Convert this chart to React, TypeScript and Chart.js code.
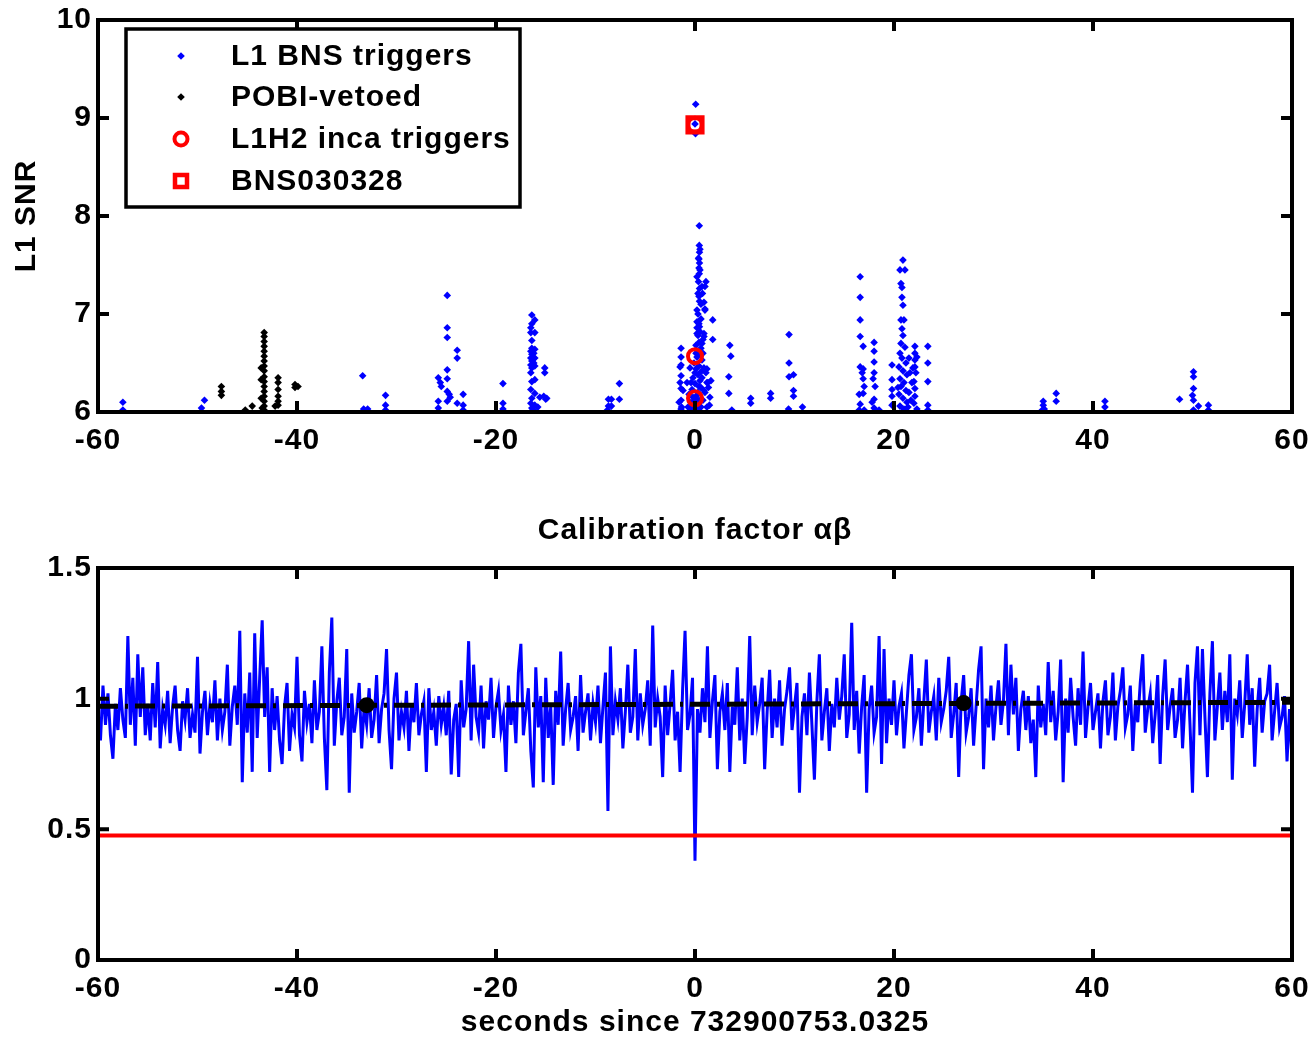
import React, { useEffect, useRef } from "react";
import { Chart, registerables } from "chart.js";

Chart.register(...registerables);

const FONT = "'Liberation Sans', Arial, Helvetica, sans-serif";

// ---------------- Top panel data ----------------
const xTicks = [-60, -40, -20, 0, 20, 40, 60];
const snrTicks = [6, 7, 8, 9, 10];
const calTicks = [0, 0.5, 1, 1.5];

const bnsTriggers: [number, number][] = [
  [-57.5, 6.1], [-57.5, 6.02], [-49.6, 6.04], [-49.3, 6.12],
  [-33.4, 6.37], [-33.3, 6.03], [-32.9, 6.03], [-31.1, 6.17], [-31.1, 6.07], [-31.1, 6.02],
  [-25.8, 6.35], [-25.8, 6.11], [-25.8, 6.04], [-25.6, 6.3], [-25.5, 6.26],
  [-24.9, 7.19], [-24.9, 6.86], [-24.9, 6.76], [-24.9, 6.43], [-24.9, 6.34], [-24.9, 6.21], [-24.9, 6.11], [-24.7, 6.18], [-24.6, 6.15],
  [-23.9, 6.63], [-23.9, 6.55], [-23.9, 6.09], [-23.3, 6.18], [-23.3, 6.07], [-23.3, 6.02],
  [-19.3, 6.29], [-19.3, 6.09], [-19.3, 6.03],
  [-16.4, 6.99], [-16.4, 6.9], [-16.5, 6.86], [-16.5, 6.81], [-16.4, 6.73], [-16.4, 6.65], [-16.5, 6.62], [-16.4, 6.59],
  [-16.5, 6.55], [-16.4, 6.52], [-16.5, 6.48], [-16.4, 6.45], [-16.5, 6.4], [-16.4, 6.31], [-16.5, 6.23], [-16.4, 6.14],
  [-16.5, 6.09], [-16.4, 6.04], [-16.4, 6.01], [-16.1, 6.94], [-16.1, 6.81], [-16.1, 6.64], [-16.1, 6.55], [-16.1, 6.47],
  [-16.1, 6.33], [-16.1, 6.19], [-16.1, 6.07], [-16.2, 6.6], [-16.2, 6.5], [-16.2, 6.02],
  [-15.1, 6.45], [-15.1, 6.4], [-15.2, 6.16], [-15.0, 6.13], [-14.9, 6.14], [-15.6, 6.15], [-15.8, 6.05],
  [-8.7, 6.13], [-8.7, 6.06], [-8.8, 6.02], [-8.4, 6.13], [-8.4, 6.06], [-7.6, 6.29], [-7.6, 6.13],
  [0.07, 9.14], [0.0, 8.94], [0.05, 8.84],
  [0.43, 7.9], [0.43, 7.7], [0.45, 7.63], [0.35, 7.57], [0.45, 7.52], [0.4, 7.47], [0.43, 7.41], [0.35, 7.33], [1.1, 7.33],
  [0.45, 7.26], [0.75, 7.21], [0.3, 7.21], [1.0, 7.28], [0.45, 7.13], [0.9, 7.12], [1.0, 7.04], [0.2, 7.04], [1.78, 6.94],
  [0.45, 6.87], [0.2, 6.8], [0.9, 6.77], [1.78, 6.74],
  [-1.4, 6.56], [-1.4, 6.48], [-1.4, 6.37], [-1.4, 6.24], [-1.4, 6.12], [-1.35, 6.05], [-0.8, 6.3], [1.2, 6.44], [1.2, 6.3], [1.35, 6.25], [1.45, 6.07],
  [3.5, 6.68], [3.6, 6.57], [3.4, 6.36], [3.4, 6.19], [3.7, 6.02],
  [5.6, 6.14], [5.6, 6.09], [7.6, 6.19], [7.6, 6.14],
  [9.45, 6.79], [9.45, 6.5], [9.45, 6.36], [9.9, 6.38], [9.9, 6.22], [9.9, 6.16], [9.4, 6.03], [10.8, 6.05],
  [-0.3, 6.02], [-0.2, 6.05], [-0.1, 6.08], [0.0, 6.11], [0.1, 6.14], [0.2, 6.17], [0.3, 6.2], [-0.3, 6.23], [0.4, 6.26],
  [0.0, 6.29], [0.5, 6.32], [-0.2, 6.35], [0.3, 6.38], [0.6, 6.41], [0.1, 6.44], [0.4, 6.47], [-0.1, 6.5], [0.7, 6.53],
  [0.2, 6.56], [0.5, 6.59], [0.3, 6.62], [0.6, 6.65], [0.1, 6.68], [0.4, 6.71], [0.8, 6.74], [0.3, 6.78], [0.5, 6.82],
  [0.2, 6.86], [0.4, 6.9], [0.6, 6.95], [0.3, 7.0], [-0.4, 6.1], [0.8, 6.12], [-0.4, 6.3], [0.9, 6.22], [0.7, 6.35],
  [0.9, 6.45], [0.8, 6.6], [1.1, 6.4], [1.0, 6.2], [1.2, 6.05], [1.3, 6.3], [1.5, 6.15], [1.6, 6.32], [-0.5, 6.45],
  [-0.6, 6.18], [-0.7, 6.05], [0.6, 6.05], [0.2, 6.03], [0.5, 6.12], [0.0, 6.4], [0.9, 6.8], [1.0, 7.05], [0.6, 7.1],
  [0.4, 7.18], [0.7, 7.28], [0.2, 7.38], [0.5, 7.45], [0.4, 7.56], [0.5, 7.66], [-1.2, 6.22], [-1.5, 6.3], [-1.5, 6.46],
  [-1.4, 6.65], [-1.6, 6.1], [-1.4, 6.03], [0.1, 6.6], [0.6, 6.25], [-0.2, 6.15], [0.3, 6.1], [0.7, 6.7], [0.2, 6.92],
  [16.6, 7.38], [16.6, 7.17], [16.6, 6.94], [16.6, 6.77], [16.6, 6.46], [16.5, 6.18], [16.6, 6.08], [16.5, 6.02],
  [16.9, 6.67], [16.9, 6.44], [16.9, 6.34], [17.0, 6.26], [16.9, 6.19], [17.0, 6.02], [16.8, 6.4],
  [18.0, 6.71], [18.0, 6.62], [18.0, 6.51], [18.0, 6.4], [17.9, 6.34], [18.1, 6.26], [18.0, 6.13], [18.0, 6.04], [17.8, 6.1],
  [18.5, 6.02], [19.8, 6.48], [19.8, 6.33], [19.8, 6.23], [19.8, 6.16], [19.8, 6.07],
  [20.9, 7.55], [20.6, 7.45], [21.1, 7.45], [20.7, 7.31], [20.8, 7.27], [20.8, 7.17], [20.9, 7.09], [20.7, 6.94], [21.0, 6.94],
  [20.8, 6.85], [20.9, 6.78], [20.7, 6.7], [21.1, 6.66], [20.6, 6.6], [20.8, 6.55], [21.2, 6.5], [20.5, 6.46], [20.9, 6.42],
  [21.3, 6.38], [20.6, 6.34], [21.0, 6.3], [20.7, 6.26], [21.2, 6.22], [20.5, 6.18], [20.9, 6.14], [21.3, 6.1], [20.6, 6.06],
  [21.0, 6.03], [21.5, 6.2], [21.6, 6.4], [21.7, 6.12], [21.8, 6.3], [21.4, 6.05], [20.4, 6.25], [21.5, 6.55], [21.9, 6.45],
  [22.1, 6.67], [22.1, 6.6], [22.1, 6.53], [22.1, 6.46], [22.2, 6.4], [22.0, 6.31], [22.1, 6.24], [22.1, 6.16], [22.0, 6.09],
  [22.3, 6.56], [22.3, 6.03], [23.4, 6.67], [23.4, 6.5], [23.4, 6.31], [23.4, 6.07], [23.4, 6.02],
  [35.0, 6.11], [35.0, 6.07], [35.1, 6.03], [34.9, 6.02], [36.3, 6.19], [36.3, 6.11], [41.2, 6.11], [41.2, 6.05],
  [48.7, 6.13], [50.1, 6.41], [50.1, 6.36], [50.1, 6.24], [50.0, 6.17], [50.1, 6.12], [50.1, 6.02], [50.6, 6.06],
  [51.6, 6.07], [51.6, 6.02],
];

const pobiVetoed: [number, number][] = [
  [-47.6, 6.26], [-47.6, 6.21], [-47.6, 6.17], [-45.2, 6.02], [-44.5, 6.06],
  [-43.3, 6.81], [-43.3, 6.77], [-43.3, 6.72], [-43.3, 6.67], [-43.3, 6.62], [-43.3, 6.57], [-43.3, 6.52], [-43.3, 6.47],
  [-43.3, 6.42], [-43.3, 6.36], [-43.3, 6.31], [-43.3, 6.26], [-43.3, 6.21], [-43.3, 6.16], [-43.3, 6.11], [-43.3, 6.06],
  [-43.3, 6.02], [-43.6, 6.45], [-43.6, 6.33], [-43.6, 6.14], [-43.5, 6.04],
  [-42.2, 6.06], [-41.9, 6.35], [-41.9, 6.3], [-41.9, 6.23], [-41.9, 6.16], [-41.9, 6.11], [-41.9, 6.07],
  [-40.2, 6.28], [-40.2, 6.25], [-39.9, 6.26],
];

const incaTriggers: [number, number][] = [[0, 8.93], [0, 6.57], [0, 6.14]];
const bns030328: [number, number][] = [[0, 8.93]];

// ---------------- Bottom panel data ----------------
const CAL_START = -60;
const CAL_STEP = 0.25;
const calibration: number[] = [
  0.95, 0.84, 1.05, 0.90, 1.02, 0.86, 0.77, 0.98, 0.88, 1.04, 0.92, 0.85, 1.24, 0.90, 1.08, 0.82, 1.17, 0.93, 1.12, 0.86,
  0.98, 0.84, 1.06, 0.89, 1.14, 0.81, 0.96, 0.90, 1.03, 0.83, 0.97, 1.05, 0.88, 0.80, 0.99, 0.92, 1.04, 0.85, 0.94, 0.87,
  1.16, 0.79, 0.95, 1.03, 0.86, 0.98, 0.91, 1.07, 0.84, 1.00, 0.88, 0.95, 1.13, 0.82, 0.97, 1.05, 0.90, 1.26, 0.68, 1.02,
  0.87, 1.10, 0.72, 1.25, 0.85, 1.08, 1.30, 0.93, 1.12, 0.72, 1.04, 0.88, 1.01, 0.84, 0.75, 0.97, 1.06, 0.80, 0.94, 0.89,
  1.16, 0.86, 0.76, 1.03, 0.91, 0.98, 0.83, 1.07, 0.88, 0.95, 1.20, 0.85, 0.65, 1.10, 1.31, 0.82, 0.99, 1.08, 0.86, 0.93,
  1.19, 0.64, 1.02, 0.87, 0.95, 1.06, 0.81, 0.97, 0.90, 1.04, 0.85, 0.92, 1.09, 0.83, 0.96, 1.02, 1.19, 0.88, 0.73, 1.00,
  1.10, 0.84, 0.95, 0.89, 1.03, 0.80, 0.98, 0.91, 1.06, 0.86, 0.94, 0.99, 0.72, 1.04, 0.88, 0.95, 0.82, 1.01, 0.90, 0.97,
  0.86, 1.03, 0.71, 0.92, 0.98, 0.70, 1.07, 0.89, 0.96, 1.22, 0.84, 1.13, 0.93, 0.87, 1.05, 0.81, 0.99, 0.92, 1.08, 0.85,
  0.97, 1.03, 0.88, 0.94, 0.72, 1.05, 0.90, 0.99, 0.83, 1.10, 1.21, 0.86, 0.95, 1.04, 0.80, 0.66, 1.12, 0.89, 1.01, 0.68,
  1.08, 0.85, 0.97, 0.67, 1.03, 0.90, 1.18, 0.82, 0.96, 1.06, 0.88, 0.93, 1.01, 0.80, 1.09, 0.87, 0.95, 1.02, 0.84, 0.98,
  0.91, 1.05, 0.83, 0.97, 1.10, 0.57, 1.20, 0.86, 0.99, 0.92, 1.04, 0.81, 0.95, 1.13, 0.87, 0.93, 1.19, 0.84, 1.02, 0.90,
  0.96, 1.07, 0.82, 1.28, 0.89, 1.00, 0.93, 0.70, 1.05, 0.86, 0.98, 1.11, 0.84, 0.95, 0.72, 1.03, 1.26, 0.88, 0.94, 1.08,
  0.38, 0.96, 0.87, 1.04, 0.91, 1.20, 0.85, 0.99, 1.09, 0.73, 0.95, 1.02, 0.88, 1.06, 0.72, 0.97, 0.90, 1.12, 0.84, 1.00,
  0.75, 0.93, 1.24, 0.86, 1.05, 0.91, 0.98, 1.08, 0.73, 0.95, 1.11, 0.85, 1.00, 0.89, 1.07, 0.82, 0.96, 1.03, 1.12, 0.88,
  0.97, 1.06, 0.64, 0.93, 1.02, 0.86, 1.10, 0.90, 0.69, 0.99, 1.17, 0.84, 0.95, 1.04, 0.80, 0.98, 0.89, 1.08, 0.92, 1.01,
  1.17, 0.85, 0.94, 1.29, 0.88, 1.03, 0.79, 0.97, 1.09, 0.64, 0.96, 1.05, 0.87, 0.93, 1.24, 0.75, 1.19, 0.83, 1.00, 0.90,
  1.07, 0.86, 0.97, 1.02, 0.81, 0.95, 1.09, 1.17, 0.88, 0.93, 1.04, 0.82, 0.99, 1.15, 0.87, 0.95, 1.01, 0.84, 1.08, 0.91,
  0.96, 1.03, 1.16, 0.85, 0.94, 1.06, 0.70, 0.99, 1.09, 0.87, 0.93, 1.04, 0.82, 0.97, 1.11, 1.20, 0.73, 1.00, 0.89, 1.05,
  0.84, 0.97, 1.07, 0.90, 0.99, 1.21, 0.86, 1.13, 0.94, 1.08, 0.80, 0.96, 1.03, 0.88, 1.01, 0.83, 0.92, 0.70, 1.05, 0.89,
  0.98, 0.86, 1.14, 0.91, 1.03, 0.84, 0.95, 1.15, 0.68, 1.00, 0.87, 1.08, 0.93, 0.82, 1.04, 0.90, 1.18, 0.85, 0.97, 1.06,
  0.88, 0.95, 1.02, 0.81, 0.99, 1.07, 0.86, 0.93, 1.10, 0.84, 0.97, 1.03, 1.12, 0.89, 0.94, 1.05, 0.80, 0.98, 0.91, 1.06,
  1.17, 0.87, 0.96, 1.02, 0.83, 0.94, 1.09, 0.75, 1.01, 1.15, 0.88, 0.97, 1.04, 0.85, 0.92, 1.08, 0.81, 0.99, 1.13, 0.90,
  0.64, 1.06, 1.20, 0.86, 1.19, 0.93, 0.70, 1.02, 1.22, 0.84, 0.97, 1.10, 0.88, 1.03, 0.91, 1.17, 0.69, 1.00, 0.94, 1.07,
  0.85, 0.98, 1.17, 0.90, 1.04, 0.74, 0.96, 1.08, 0.87, 0.99, 1.02, 1.13, 0.84, 0.95, 1.06, 0.89, 0.93, 1.01, 0.76, 0.96,
  0.76,
];
const meanLine: [number, number][] = [[-60, 0.971], [60, 0.986]];
const meanMarkers: [number, number][] = [[-33, 0.975], [27, 0.983]];
const thresholdLine: [number, number][] = [[-60, 0.476], [60, 0.476]];

const toXY = (arr: [number, number][]) => arr.map(([x, y]) => ({ x, y }));

const tickFont = { family: FONT, size: 30, weight: "bold" as const };
const SPACING = "1px";

const spacingPlugin = {
  id: "spacing",
  beforeUpdate(chart: any) {
    chart.ctx.letterSpacing = SPACING;
  },
  beforeDraw(chart: any) {
    chart.ctx.letterSpacing = SPACING;
  },
};

const framePlugin = {
  id: "frame",
  afterDatasetsDraw(chart: any) {
    const ctx = chart.ctx;
    const { left, right, top, bottom } = chart.chartArea;
    ctx.save();
    ctx.strokeStyle = "#000";
    ctx.lineWidth = 4;
    ctx.strokeRect(left, top, right - left, bottom - top);
    const tl = 11;
    const xs = chart.scales.x;
    const ys = chart.scales.y;
    ctx.beginPath();
    xs.ticks.forEach((t: any) => {
      const px = xs.getPixelForValue(t.value);
      ctx.moveTo(px, bottom);
      ctx.lineTo(px, bottom - tl);
      ctx.moveTo(px, top);
      ctx.lineTo(px, top + tl);
    });
    ys.ticks.forEach((t: any) => {
      const py = ys.getPixelForValue(t.value);
      ctx.moveTo(left, py);
      ctx.lineTo(left + tl, py);
      ctx.moveTo(right, py);
      ctx.lineTo(right - tl, py);
    });
    ctx.stroke();
    ctx.restore();
  },
};

const legendItems = [
  { label: "L1 BNS triggers", kind: "dot", color: "#0000ff" },
  { label: "POBI-vetoed", kind: "dot", color: "#000000" },
  { label: "L1H2 inca triggers", kind: "circle", color: "#ff0000" },
  { label: "BNS030328", kind: "square", color: "#ff0000" },
];

const legendPlugin = {
  id: "legendBox",
  afterDraw(chart: any) {
    const ctx = chart.ctx;
    const { left, top } = chart.chartArea;
    const x0 = left + 28;
    const y0 = top + 9;
    const w = 394;
    const h = 178;
    ctx.save();
    ctx.fillStyle = "#fff";
    ctx.fillRect(x0, y0, w, h);
    ctx.strokeStyle = "#000";
    ctx.lineWidth = 3.5;
    ctx.strokeRect(x0, y0, w, h);
    const rowY = [36, 77, 119, 161];
    legendItems.forEach((it, i) => {
      const cy = top + rowY[i];
      const mx = left + 83;
      if (it.kind === "dot") {
        ctx.fillStyle = it.color;
        ctx.beginPath();
        ctx.moveTo(mx, cy - 3.8);
        ctx.lineTo(mx + 3.8, cy);
        ctx.lineTo(mx, cy + 3.8);
        ctx.lineTo(mx - 3.8, cy);
        ctx.closePath();
        ctx.fill();
      } else if (it.kind === "circle") {
        ctx.strokeStyle = it.color;
        ctx.lineWidth = 4;
        ctx.beginPath();
        ctx.arc(mx, cy, 6.5, 0, Math.PI * 2);
        ctx.stroke();
      } else {
        ctx.strokeStyle = it.color;
        ctx.lineWidth = 4.5;
        ctx.strokeRect(mx - 6, cy - 6, 12, 12);
      }
      ctx.fillStyle = "#000";
      ctx.font = `bold 30px ${FONT}`;
      ctx.textAlign = "left";
      ctx.textBaseline = "middle";
      ctx.fillText(it.label, left + 133, cy + 1);
    });
    ctx.restore();
  },
};

const fmt = (v: any) => String(v);

function xScale(withTitle: boolean, height: number) {
  return {
    type: "linear" as const,
    min: -60,
    max: 60,
    afterBuildTicks: (s: any) => {
      s.ticks = xTicks.map((v) => ({ value: v }));
    },
    ticks: { color: "#000", font: tickFont, padding: 11, maxRotation: 0, autoSkip: false, callback: fmt },
    grid: { display: false, drawTicks: false },
    border: { display: false },
    title: withTitle
      ? { display: true, text: "seconds since 732900753.0325", color: "#000", font: tickFont, padding: { top: 0, bottom: -3 } }
      : { display: false },
    afterFit: (s: any) => {
      s.height = height;
      s.paddingLeft = 0;
      s.paddingRight = 0;
    },
  };
}

function yScale(min: number, max: number, ticks: number[], title: string | null) {
  return {
    type: "linear" as const,
    min,
    max,
    afterBuildTicks: (s: any) => {
      s.ticks = ticks.map((v) => ({ value: v }));
    },
    ticks: { color: "#000", font: tickFont, padding: 6, callback: fmt },
    grid: { display: false, drawTicks: false },
    border: { display: false },
    title: title
      ? { display: true, text: title, color: "#000", font: tickFont, padding: { top: 9, bottom: 0 } }
      : { display: false },
    afterFit: (s: any) => {
      s.width = 98;
      s.paddingTop = 0;
      s.paddingBottom = 0;
    },
  };
}

export default function App() {
  const topRef = useRef<HTMLCanvasElement | null>(null);
  const botRef = useRef<HTMLCanvasElement | null>(null);

  useEffect(() => {
    const top = new Chart(topRef.current as HTMLCanvasElement, {
      type: "scatter",
      data: {
        datasets: [
          {
            label: "BNS030328",
            data: toXY(bns030328),
            pointStyle: "rect",
            pointRadius: 10,
            pointBorderWidth: 5,
            pointBorderColor: "#ff0000",
            pointBackgroundColor: "rgba(0,0,0,0)",
            order: 0,
          },
          {
            label: "L1H2 inca triggers",
            data: toXY(incaTriggers),
            pointStyle: "circle",
            pointRadius: 7,
            pointBorderWidth: 4,
            pointBorderColor: "#ff0000",
            pointBackgroundColor: "rgba(0,0,0,0)",
            order: 1,
          },
          {
            label: "POBI-vetoed",
            data: toXY(pobiVetoed),
            pointStyle: "rectRot",
            pointRadius: 3.8,
            pointBorderWidth: 0,
            pointBackgroundColor: "#000000",
            order: 2,
          },
          {
            label: "L1 BNS triggers",
            data: toXY(bnsTriggers),
            pointStyle: "rectRot",
            pointRadius: 3.8,
            pointBorderWidth: 0,
            pointBackgroundColor: "#0000ff",
            order: 3,
          },
        ],
      },
      options: {
        responsive: false,
        animation: false,
        events: [],
        layout: { padding: { top: 20, right: 23, left: 0, bottom: 0 } },
        scales: {
          x: xScale(false, 58),
          y: yScale(6, 10, snrTicks, "L1 SNR"),
        },
        plugins: { legend: { display: false }, tooltip: { enabled: false }, title: { display: false } },
      },
      plugins: [spacingPlugin, framePlugin, legendPlugin],
    } as any);

    const calData = calibration.map((v, i) => ({ x: CAL_START + i * CAL_STEP, y: v }));

    const bot = new Chart(botRef.current as HTMLCanvasElement, {
      type: "scatter",
      data: {
        datasets: [
          {
            label: "mean markers",
            data: toXY(meanMarkers),
            pointStyle: "circle",
            pointRadius: 8,
            pointBorderWidth: 0,
            pointBackgroundColor: "#000",
            order: 0,
          },
          {
            label: "mean",
            data: toXY(meanLine),
            showLine: true,
            borderColor: "#000",
            borderWidth: 5,
            borderDash: [20, 7, 3, 7],
            pointRadius: 0,
            order: 1,
          },
          {
            label: "threshold",
            data: toXY(thresholdLine),
            showLine: true,
            borderColor: "#ff0000",
            borderWidth: 4,
            pointRadius: 0,
            order: 2,
          },
          {
            label: "calibration",
            data: calData,
            showLine: true,
            borderColor: "#0000ff",
            borderWidth: 3,
            pointRadius: 0,
            tension: 0,
            order: 3,
          },
        ],
      },
      options: {
        responsive: false,
        animation: false,
        events: [],
        layout: { padding: { top: 0, right: 23, left: 0, bottom: 0 } },
        scales: {
          x: xScale(true, 78),
          y: yScale(0, 1.5, calTicks, null),
        },
        plugins: {
          legend: { display: false },
          tooltip: { enabled: false },
          title: {
            display: true,
            text: "Calibration factor αβ",
            color: "#000",
            font: tickFont,
            fullSize: false,
            padding: { top: 43, bottom: 19 },
          },
        },
      },
      plugins: [spacingPlugin, framePlugin],
    } as any);

    return () => {
      top.destroy();
      bot.destroy();
    };
  }, []);

  return (
    <div style={{ position: "fixed", left: 0, top: 0, width: 1315, height: 1038, background: "#fff", overflow: "hidden" }}>
      <canvas ref={topRef} width={1315} height={470} style={{ position: "absolute", left: 0, top: 0 }} />
      <canvas ref={botRef} width={1315} height={568} style={{ position: "absolute", left: 0, top: 470 }} />
    </div>
  );
}
